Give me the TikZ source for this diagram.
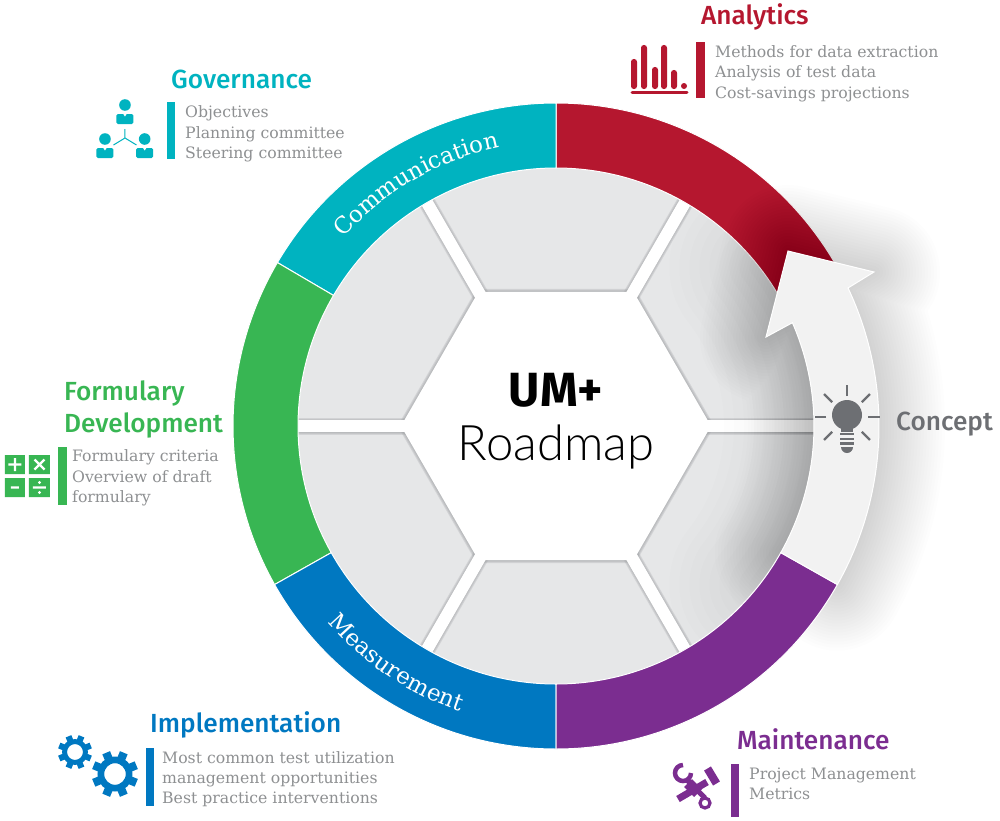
\documentclass[tikz,border=0pt]{standalone}
\usepackage{fontspec}
\usetikzlibrary{decorations.text}
\setmainfont{Fira Sans Medium}
\newfontfamily\slabfont{DejaVu Serif}
\newfontfamily\lightfont{Lato Light}
\newfontfamily\umfont{Fira Sans Bold}
\definecolor{redc}{HTML}{B5172F}
\definecolor{tealc}{HTML}{00B3C0}
\definecolor{greenc}{HTML}{38B653}
\definecolor{bluec}{HTML}{0078C1}
\definecolor{purplec}{HTML}{7B2D90}
\definecolor{greytext}{HTML}{8E9092}
\definecolor{conceptc}{HTML}{6D6F73}
\definecolor{tilec}{HTML}{E6E7E8}
\definecolor{tileshade}{HTML}{A0A2A6}
\newcommand{\ringseg}[3]{\fill[#1, draw=white, line width=1] (#2:323) arc (#2:#3:323) -- (#3:258) arc (#3:#2:258) -- cycle;}
\newcommand{\hexpath}{(0:155) -- (60:155) -- (120:155) -- (180:155) -- (240:155) -- (300:155) -- cycle}
\newcommand{\arrowpath}{(-29.4:323) arc (-29.4:25.3:323) -- (318,154) -- (232,175) -- (210,89) -- (23.6:258) arc (23.6:-29.4:258) -- cycle}
\newcommand{\personicon}[2]{\fill[tealc] (#1,#2) circle (5.8);
    \fill[tealc, rounded corners=1.5] (#1-8.5,#2-19) rectangle (#1+8.5,#2-9);
    \fill[white] (#1-2,#2-8.5) -- (#1+2,#2-8.5) -- (#1,#2-11.5) -- cycle;}
\newcommand{\gearicon}[3]{\draw[bluec, line width=#3*.29] (#1,#2) circle (#3*.615);
    \foreach \a in {0,45,...,315} \draw[bluec, line width=#3*.36] (#1,#2) ++(\a+22.5:#3*.65) -- ++(\a+22.5:#3*.35);}

\begin{document}
\begin{tikzpicture}[x=1pt, y=1pt,
        headtext/.style={anchor=west, inner sep=0, font=\fontsize{26.2}{32}\selectfont, align=left},
        listtext/.style={anchor=west, inner sep=0, text=greytext, font=\slabfont\fontsize{15.7}{20.3}\selectfont, align=left}]
    \fill[white] (-556,-393) rectangle (444,427);
    \useasboundingbox (-556,-393) rectangle (444,427);

    \begin{scope}[shift={(0,1)}]
        \fill[tilec] (0,0) circle (259);
        \foreach \w in {17,15,13} {
            \foreach \ang in {0,60,...,300} \draw[tileshade, opacity=.28, line width=\w] (\ang:150) -- (\ang:258);
            \draw[tileshade, opacity=.28, line width=\w-11] \hexpath;
        }
        \foreach \ang in {0,60,...,300} \draw[white, line width=12] (\ang:150) -- (\ang:262);
        \fill[white] \hexpath;

        \ringseg{redc}{90}{30}
        \ringseg{tealc}{149.6}{90}
        \ringseg{greenc}{209.4}{149.6}
        \ringseg{bluec}{270}{209.4}

        \begin{scope}
            \clip (0,0) circle (258);
            \foreach \w in {20,40,...,180} \draw[black, opacity=.006, line width=\w, line cap=round] (38:258) arc (38:-38:258);
        \end{scope}
        \foreach \w in {6,12,...,132} \draw[black, opacity=.006, line width=\w, line join=round] \arrowpath;

        \ringseg{purplec}{330.6}{270}
        \fill[black!5, draw=white, line width=1] \arrowpath;

        \path[decorate, decoration={text along path, text align=center,
            text={|\slabfont\fontsize{23}{26}\selectfont\color{white}|Communication}}]
            (145:284) arc (145:95:284);
        \path[decorate, decoration={text along path, text align=center,
            text={|\slabfont\fontsize{23}{26}\selectfont\color{white}|Measurement}}]
            (216:301) arc (216:256:301);
    \end{scope}

    \node[inner sep=0, font=\umfont\fontsize{48}{50}\selectfont] (umplus) at (0,37) {UM+};
    \node[inner sep=0, font=\lightfont\fontsize{49}{56}\selectfont] (roadmap) at (0,-20) {Roadmap};

    \node[headtext, text=redc] (analytics) at (145,410.5) {Analytics};
    \fill[redc] (140,385) rectangle (149,329);
    \node[listtext] (analyticslist) at (159,353.5) {Methods for data extraction\\Analysis of test data\\Cost-savings projections};
    \foreach \bx/\by in {78/368,88/382,99/360,108/382,118/357}
        \fill[redc, rounded corners=2.8] (\bx-3,338) rectangle (\bx+3,\by);
    \fill[redc] (128,341) circle (3);
    \draw[redc, line width=3, line cap=round] (76,335) -- (131,335);

    \node[headtext, text=tealc] (governance) at (-385,348) {Governance};
    \fill[tealc] (-389,325) rectangle (-381,268);
    \node[listtext] (governancelist) at (-371,293) {Objectives\\Planning committee\\Steering committee};
    \personicon{-431}{322}
    \personicon{-451}{288}
    \personicon{-411.3}{288}
    \draw[tealc, line width=1] (-431,298) -- (-431,289) -- (-442.5,282) (-431,289) -- (-419.5,282);

    \node[headtext, text=greenc] (formulary) at (-492,18) {Formulary\\Development};
    \fill[greenc] (-498,-20) rectangle (-489,-78);
    \node[listtext] (formularylist) at (-484,-51) {Formulary criteria\\Overview of draft\\formulary};
    \fill[greenc] (-551,-28) rectangle (-531,-47) (-527,-28) rectangle (-506,-47)
        (-551,-51) rectangle (-531,-70) (-527,-51) rectangle (-506,-70);
    \draw[white, line width=2.4] (-547.5,-37.5) -- (-534.5,-37.5) (-541,-31) -- (-541,-44)
        (-521.5,-32.5) -- (-511.5,-42.5) (-511.5,-32.5) -- (-521.5,-42.5)
        (-545,-60.5) -- (-537,-60.5) (-523,-60.5) -- (-510,-60.5);
    \fill[white] (-516.5,-55.5) circle (1.6) (-516.5,-65.5) circle (1.6);

    \node[headtext, text=bluec] (implementation) at (-406,-297.5) {Implementation};
    \fill[bluec] (-410,-321) rectangle (-402,-379);
    \node[listtext] (implementationlist) at (-394,-352) {Most common test utilization\\management opportunities\\Best practice interventions};
    \gearicon{-481}{-325}{17}
    \gearicon{-441}{-347}{23}

    \node[headtext, text=purplec] (maintenance) at (181,-312.5) {Maintenance};
    \fill[purplec] (175,-337) rectangle (183,-390);
    \node[listtext, anchor=north west] (maintenancelist) at (193,-340.5) {Project Management\\Metrics};
    \draw[purplec, line width=4.5] (127,-338) arc (90:360:8);
    \draw[purplec, line width=7] (122,-372) -- (151,-355);
    \draw[purplec, line width=8, rounded corners=2] (151.5,-341.5) -- (160.5,-356.5);
    \draw[purplec, line width=5] (131,-353) -- (149,-371);
    \draw[purplec, line width=11] (132,-356) -- (142,-366);
    \draw[purplec, line width=3.2] (149,-376) circle (5);

    \node[headtext, text=conceptc] (concept) at (340,2.5) {Concept};
    \fill[conceptc] (291,12) circle (15);
    \foreach \ang in {90,0,180,45,135,225,-45}
        \draw[conceptc, line width=2.2] (291,10) ++(\ang:21) -- ++(\ang:11.5);
    \fill[conceptc] (285,4) rectangle (297,-5);
    \foreach \sy in {-7,-12,-16.5}
        \draw[conceptc, line width=2.6] (284,\sy) -- (298,\sy);
    \fill[conceptc] (285,-20) -- (297,-20) arc (0:-180:6) -- cycle;
\end{tikzpicture}
\end{document}
